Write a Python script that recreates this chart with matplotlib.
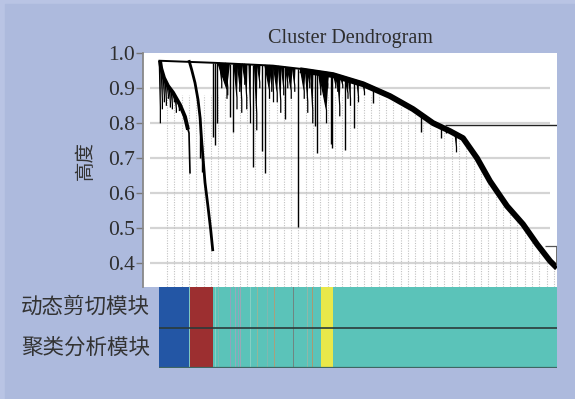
import numpy as np
import matplotlib
matplotlib.use("Agg")
import matplotlib.pyplot as plt
from matplotlib.patches import Rectangle, Polygon

# ---- data (x = leaf order, h = merge height) ----
# main chain of the tree
chain_x = [0.5, 56, 114, 141, 174, 204, 231, 254, 274, 291, 304, 318, 331, 348, 364, 378, 391, 398]
chain_h = [0.977, 0.971, 0.963, 0.954, 0.940, 0.914, 0.880, 0.843, 0.803, 0.780, 0.760,
           0.703, 0.637, 0.566, 0.514, 0.457, 0.409, 0.389]

# first big branch (blue module)
branch_a_x = [1, 2.2, 5, 9, 14, 21, 26, 29, 30, 31]
branch_a_h = [0.977, 0.955, 0.928, 0.905, 0.886, 0.851, 0.817, 0.780, 0.771, 0.657]
# second big branch (red module)
branch_b_x = [30.3, 32.7, 36, 39, 41, 43, 46, 49, 51.7, 53.7]
branch_b_h = [0.975, 0.951, 0.914, 0.866, 0.817, 0.735, 0.629, 0.560, 0.494, 0.437]

# small sub-trees hanging off branch A / branch B: position, lowest height
a_sub_pos = [1, 3, 5, 7, 9, 11, 13, 15, 17, 20, 23, 25]
a_sub_low = [0.80, 0.84, 0.86, 0.85, 0.87, 0.845, 0.84, 0.86, 0.83, 0.835, 0.83, 0.81]
b_sub_pos = [41, 43]
b_sub_low = [0.70, 0.66]

# sub-trees hanging off the main chain: position, lowest height, leaves
sub_pos = [54, 56, 58, 62, 65, 68, 71, 74, 77, 80, 82, 85, 87, 91, 94, 97, 100, 103, 106,
           109, 112, 114, 117, 121, 124, 126, 128, 131, 135, 139, 144, 148, 150, 153,
           156, 158, 161, 165, 168, 172, 173, 176, 178, 180, 183, 186, 188, 191, 195,
           199, 205, 214, 221, 230, 246, 262, 282, 287, 297, 386, 392, 396]
sub_low = [0.76, 0.737, 0.80, 0.90, 0.87, 0.88, 0.817, 0.774, 0.84, 0.89, 0.83, 0.91,
           0.84, 0.80, 0.674, 0.78, 0.90, 0.72, 0.657, 0.87, 0.89, 0.86, 0.86, 0.83, 0.88,
           0.81, 0.90, 0.87, 0.89, 0.503, 0.87, 0.83, 0.90, 0.80, 0.79, 0.714, 0.88,
           0.80, 0.90, 0.74, 0.729, 0.90, 0.89, 0.82, 0.90, 0.723, 0.87, 0.85, 0.786,
           0.86, 0.88, 0.857, 0.89, 0.87, 0.845, 0.774, 0.757, 0.77, 0.717, 0.42, 0.40,
           0.383]
sub_size = [1, 1, 1, 3, 12, 3, 1, 1, 4, 3, 3, 3, 3, 2, 1, 3, 3, 1, 1, 6, 3, 2, 5, 3, 3,
            1, 3, 5, 3, 1, 5, 3, 3, 3, 1, 1, 3, 10, 3, 1, 1, 3, 3, 3, 3, 1, 4, 2, 1, 2,
            2, 1, 2, 1, 1, 1, 1, 1, 2, 3, 3, 2]

cut_heights = [0.794, 0.449]

# module colour bar
module_start = [0, 30, 54, 162, 174]
module_end = [30, 54, 162, 174, 398]
module_color = ['#2356a5', '#9c2f30', '#5bc3b9', '#e9e84a', '#5bc3b9']
stripe_pos = [30, 56, 59, 71, 76, 79, 81, 91, 98, 108, 115, 134, 148, 153]
stripe_color = ['#7fc7c0', '#86cfc4', '#7fb8b0', '#8fa3bd', '#96a9bb', '#8fa3bd', '#9aa8b5',
                '#86cfc4', '#93b69a', '#7fb8b0', '#a7a07e', '#6f8582', '#8fb7a8', '#a89a72']
row_labels = ['动态剪切模块', '聚类分析模块']

yticks = [0.4, 0.5, 0.6, 0.7, 0.8, 0.9, 1.0]

W, H = 575, 399
fig = plt.figure(figsize=(W / 100, H / 100), dpi=100)
fig.patch.set_facecolor('#b9c4e4')
fig.add_artist(Rectangle((5 / W, 0), 1, 1 - 4 / H, transform=fig.transFigure,
                         color='#adbadd', zorder=-5))

# ---- dendrogram panel ----
ax = fig.add_axes([143 / W, 1 - 287 / H, 414 / W, 234.3 / H])
ax.set_facecolor('white')
ax.set_xlim(-16, 398)
ax.set_ylim(0.3306, 1.0)
for side in ['top', 'right', 'bottom']:
    ax.spines[side].set_visible(False)
ax.spines['left'].set_color('#888888')
ax.spines['left'].set_linewidth(1.3)
ax.set_xticks([])
ax.set_yticks(yticks)
ax.set_yticklabels(['%.1f' % t for t in yticks], family='Liberation Serif')
ax.tick_params(axis='y', direction='out', length=5, width=1, color='#777777',
               labelsize=15.5, labelcolor='#2e2e2e', pad=1)

# grey horizontal guides
ax.hlines(yticks[:-1], -9, 391, color='#d4d4d4', lw=1.6, zorder=1)

# dotted leaf guides below the tree
guide_x = np.arange(8, 398, 7.3)
guide_top = np.minimum(np.interp(guide_x, chain_x, chain_h) - 0.015, 0.88)
ax.vlines(guide_x, 0.3306, guide_top, color='#c2c2c2', lw=0.8,
          linestyles=(0, (1, 1.3)), zorder=1)


def draw_sub(pos, low, size, parent_x, parent_h):
    top = np.interp(pos, parent_x, parent_h)
    if size > 1:
        mid = top - min(0.15, 0.75 * (top - low))
        tip = pos + 0.25 * size
        ax.add_patch(Polygon([(pos - size / 2, top), (pos + size / 2, top), (tip, mid)],
                             closed=True, color='black', lw=0, zorder=3))
        ax.plot([pos - size / 2, tip, tip], [top, mid, low], color='black', lw=0.9,
                zorder=3)
    else:
        ax.vlines(pos, low, top, color='black', lw=1.0, zorder=3)


for p, lo in zip(a_sub_pos, a_sub_low):
    draw_sub(p, lo, 1.5, branch_a_x, branch_a_h)
for p, lo in zip(b_sub_pos, b_sub_low):
    draw_sub(p, lo, 1, branch_b_x[4:], branch_b_h[4:])
for p, lo, s in zip(sub_pos, sub_low, sub_size):
    draw_sub(p, lo, s, chain_x, chain_h)

ax.plot(branch_a_x[:-2], branch_a_h[:-2], color='black', lw=2.8, zorder=4,
        solid_capstyle='butt')
ax.plot(branch_a_x[-3:], branch_a_h[-3:], color='black', lw=1.2, zorder=4)
ax.plot(branch_b_x, branch_b_h, color='black', lw=2.0, zorder=4)

# main chain: thin at the top left, thick where many leaves join
ax.plot(chain_x, chain_h, color='black', lw=1.4, zorder=4)
cx = np.array(chain_x)
thick = cx >= 141
ax.plot(cx[thick], np.array(chain_h)[thick] - 0.004, color='black', lw=4.2, zorder=4,
        solid_capstyle='butt')

# cut lines
ax.hlines(cut_heights[0], 286, 398, color='#222222', lw=1.0, zorder=5)
ax.hlines(cut_heights[1], 386, 398, color='#555555', lw=0.9, zorder=5)
ax.vlines(398, 0.39, cut_heights[1], color='#555555', lw=1.2, zorder=5)

fig.text(350 / W, 1 - 39 / H, 'Cluster Dendrogram', ha='center', va='center',
         family='Liberation Serif', fontsize=14.5, color='#2e2e2e')
fig.text(85 / W, 1 - 160 / H, '高度', ha='center', va='center', rotation=90,
         family=['Noto Sans CJK SC', 'DejaVu Sans'], fontsize=14, color='#333333')

# ---- module colour rows ----
bx = fig.add_axes([159 / W, 1 - 368 / H, 398 / W, 81 / H])
bx.set_xlim(0, 398)
bx.set_ylim(0, 2)
bx.axis('off')
for row in [0, 1]:
    bx.broken_barh([(s, e - s) for s, e in zip(module_start, module_end)], (row, 1),
                   facecolors=module_color, lw=0)
    for p, c in zip(stripe_pos, stripe_color):
        bx.broken_barh([(p, 0.9)], (row, 1), facecolors=c, lw=0)
bx.axhline(1, color='#2b3b3a', lw=1.2)
bx.axhline(0.01, color='#3f6663', lw=1.6)

for i, lab in enumerate(row_labels):
    fig.text(150 / W, 1 - (307 + 41 * i) / H, lab, ha='right', va='center',
             family=['Noto Sans CJK SC', 'DejaVu Sans'], fontsize=15.5, color='#333333')

fig.savefig('out.png', dpi=100, facecolor=fig.get_facecolor())
